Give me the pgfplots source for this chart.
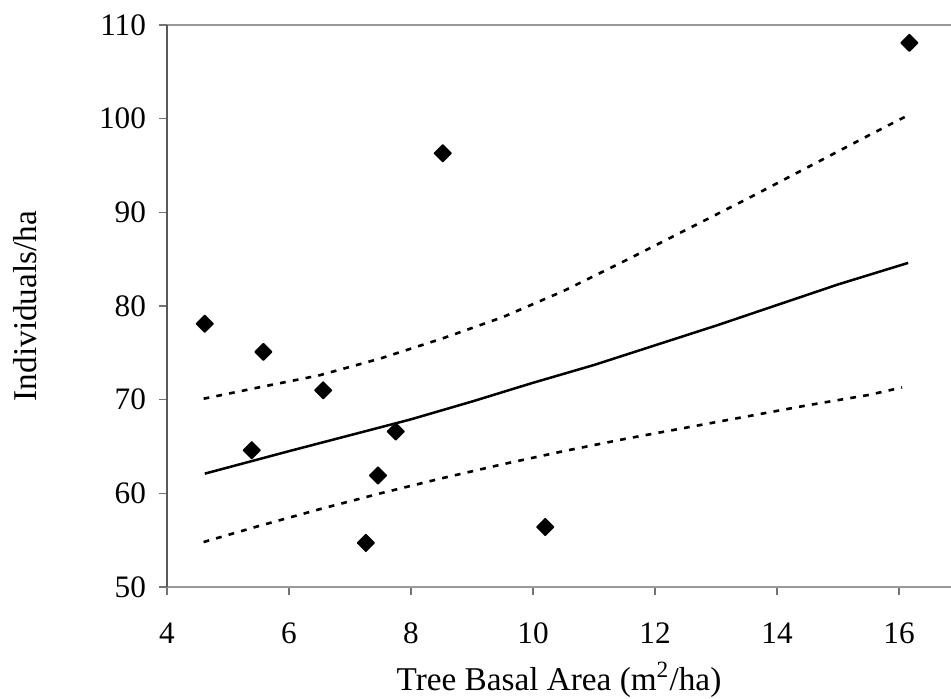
\documentclass[border=0pt]{standalone}
\usepackage{fontspec}
\setmainfont{Liberation Serif}
\usepackage{pgfplots}
\pgfplotsset{compat=1.18}

% observed plots: basal area vs density
\pgfplotstableread{
x      y
4.62   78.1
5.39   64.6
5.58   75.1
6.56   71.0
7.26   54.7
7.46   61.9
7.75   66.6
8.52   96.3
10.20  56.4
16.17  108.1
}\observed

% fitted curve
\pgfplotstableread{
x      y
4.62   62.1
6.0    64.5
7.0    66.2
8.0    67.9
9.0    69.8
10.0   71.8
11.0   73.7
12.0   75.8
13.0   77.9
14.0   80.1
15.0   82.3
16.15  84.6
}\fitted

% upper confidence limit
\pgfplotstableread{
x      y
4.6    70.1
5.5    71.3
6.5    72.6
7.5    74.4
8.5    76.5
9.5    78.8
10.5   81.6
11.5   84.8
12.5   88.1
13.5   91.4
14.5   94.8
15.5   98.2
16.1   100.2
}\upperband

% lower confidence limit
\pgfplotstableread{
x      y
4.6    54.8
5.5    56.5
6.5    58.3
7.5    60.0
8.5    61.6
9.5    63.1
10.5   64.5
11.5   65.8
12.5   67.0
13.5   68.2
14.5   69.4
15.5   70.5
16.05  71.3
}\lowerband

\begin{document}
\fontsize{12.5}{15}\selectfont
\begin{tikzpicture}
\begin{axis}[
  scale only axis,
  width=313.6pt, height=224.8pt,
  xmin=4, xmax=16.852, ymin=50, ymax=110,
  axis x line*=box, axis y line*=left,
  axis line style={-},
  x axis line style={black!40, line width=0.6pt},
  y axis line style={black!65, line width=0.6pt},
  xtick={4,6,...,16}, ytick={50,60,...,110},
  xtick pos=left, ytick pos=left,
  tick align=outside,
  major tick length=3.2pt,
  tick style={black!55, line width=0.5pt},
  /pgf/number format/assume math mode=true,
  ticklabel style={font=\fontsize{12.5}{15}\selectfont},
  yticklabel style={anchor=east, inner sep=0pt, xshift=-5pt},
  xticklabel style={anchor=north, inner sep=0pt, yshift=-11pt},
  every axis y label/.style={at={(axis description cs:-0.167,0.5)}, rotate=90, anchor=base,
    font=\fontsize{13.3}{16}\selectfont},
  every axis x label/.style={at={(axis description cs:0.5,-0.185)}, anchor=base,
    font=\fontsize{13.3}{16}\selectfont},
  xlabel={Tree Basal Area (m\textsuperscript{2}/ha)},
  ylabel={Individuals/ha},
  clip=false,
]
\addplot[black, line width=1.05pt, dash pattern=on 2.3pt off 2.9pt] table[x=x,y=y] {\upperband};
\addplot[black, line width=1.05pt, dash pattern=on 2.3pt off 2.9pt] table[x=x,y=y] {\lowerband};
\addplot[black, line width=1pt] table[x=x,y=y] {\fitted};
\addplot[only marks, mark=square*, mark size=2.35pt,
  mark options={rotate=45, line join=round, line width=0.6pt}, black] table[x=x,y=y] {\observed};
\coordinate (sw) at (rel axis cs:0,0);
\coordinate (ne) at (rel axis cs:1,1);
\end{axis}
\pgfresetboundingbox
\useasboundingbox ([xshift=-66.8pt,yshift=-44.8pt]sw) rectangle ([yshift=10pt]ne);
\end{tikzpicture}
\end{document}
